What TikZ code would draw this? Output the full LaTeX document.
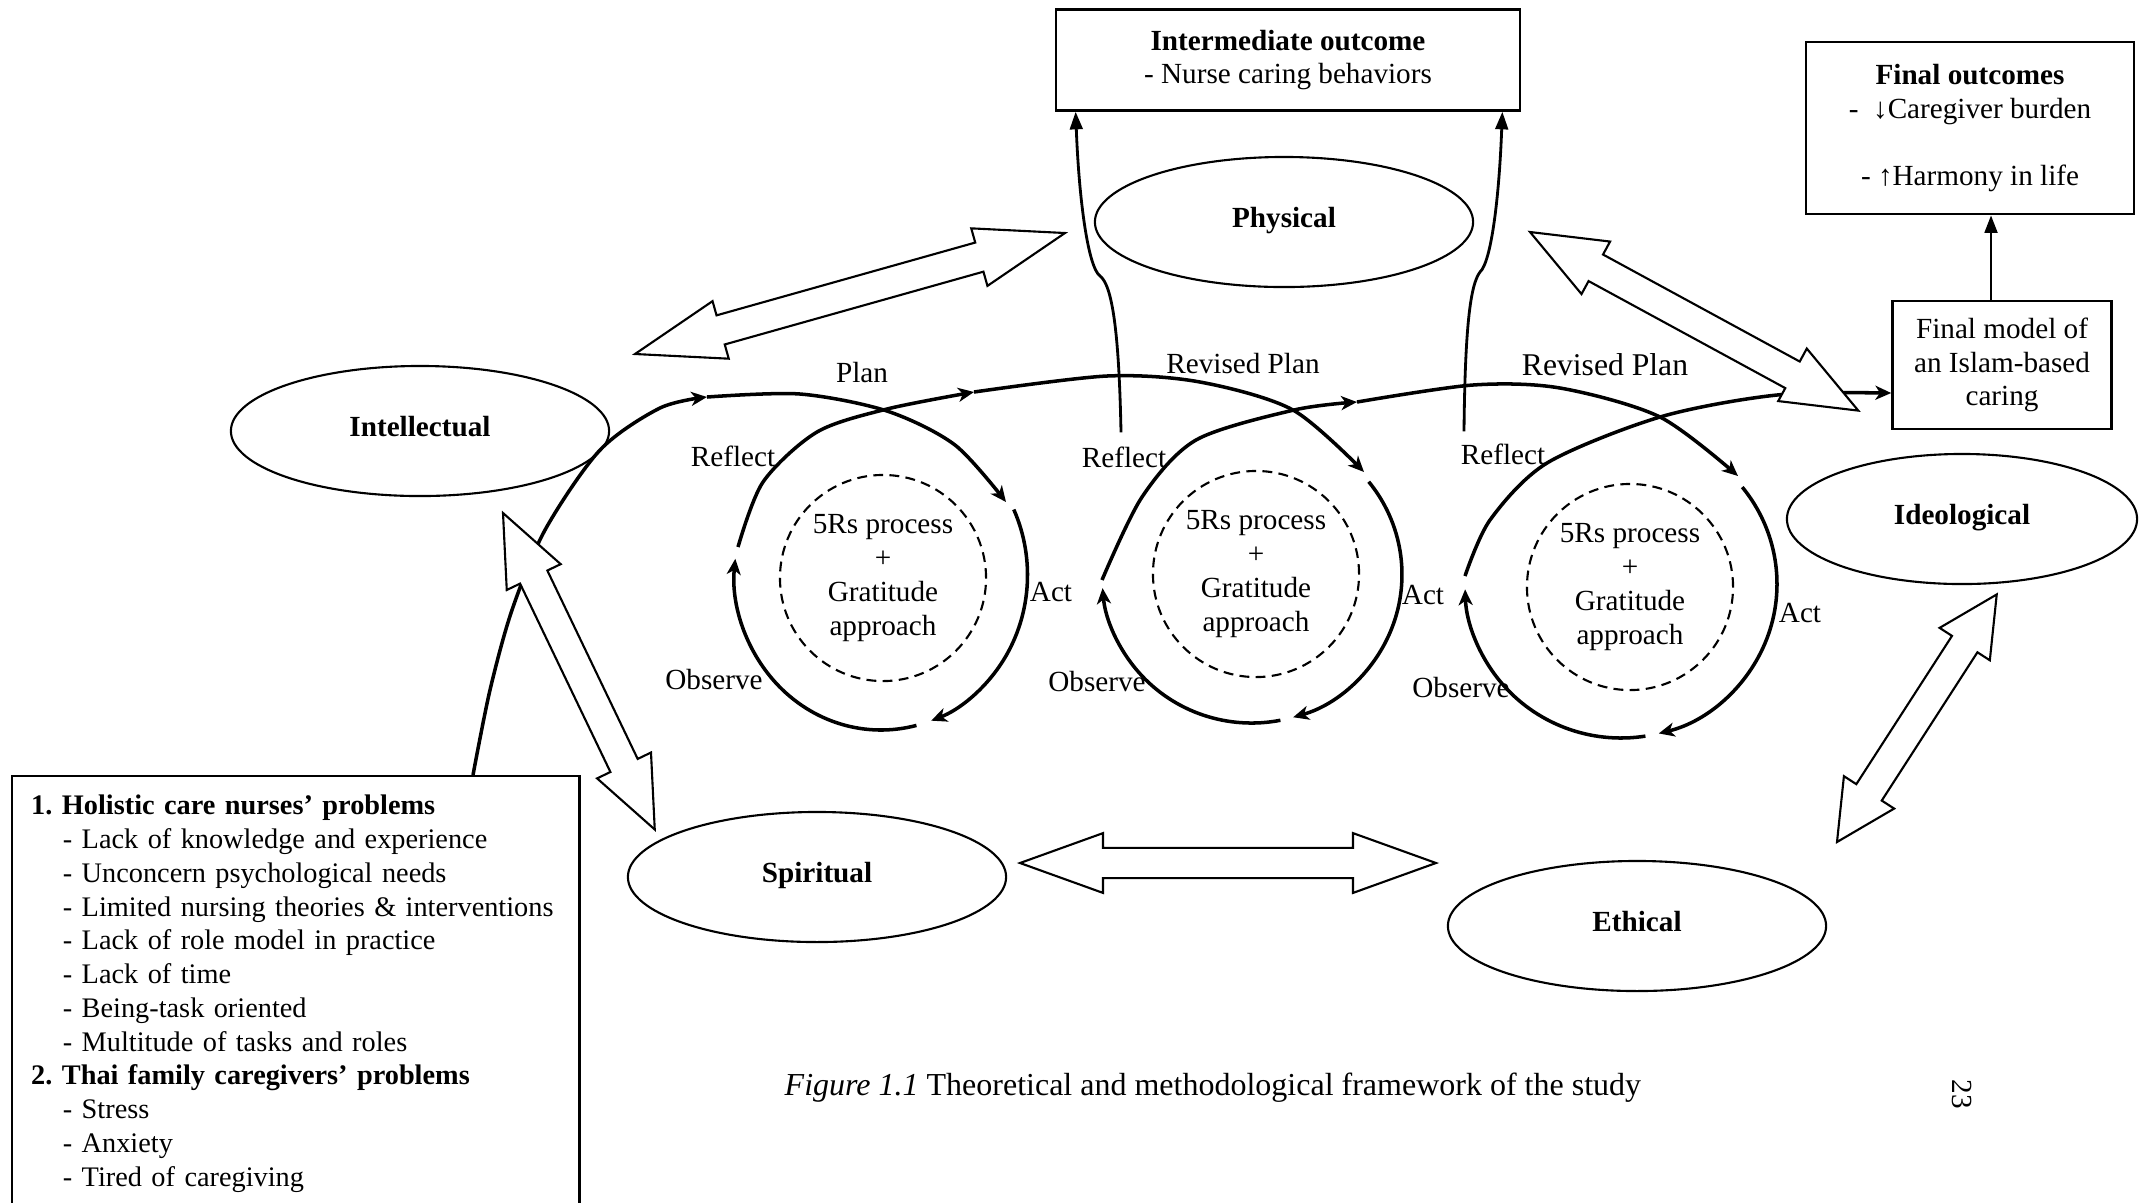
\documentclass[tikz,border=0pt]{standalone}
\usepackage{fontspec}
\setmainfont{Liberation Serif}
\usetikzlibrary{shapes.geometric,arrows.meta,calc}

\newcommand{\figtext}{\fontsize{8.3pt}{9.6pt}\selectfont}

% hollow double arrow from #1 to #2, head length #3
\newcommand{\blockarrow}[3]{%
  \path let \p1=($(#2)-(#1)$) in \pgfextra{%
    \pgfmathsetmacro{\barang}{atan2(\y1,\x1)}%
    \pgfmathsetmacro{\barlen}{veclen(\x1,\y1)}%
    \global\let\barang\barang
    \global\let\barlen\barlen};
  \draw[hollow, shift={(#1)}, rotate=\barang]
    (0pt,0pt) -- (#3,8.5pt) -- (#3,4.3pt) -- ({\barlen pt-#3},4.3pt)
    -- ({\barlen pt-#3},8.5pt) -- (\barlen pt,0pt) -- ({\barlen pt-#3},-8.5pt)
    -- ({\barlen pt-#3},-4.3pt) -- (#3,-4.3pt) -- (#3,-8.5pt) -- cycle;
}

\tikzset{
  realm/.style={ellipse, draw, line width=0.6pt, minimum width=3.78cm,
    minimum height=1.3cm, text height=0.7em, text depth=0.4em,
    font=\figtext\bfseries},
  outbox/.style={draw, line width=0.7pt, align=center},
  core/.style={circle, draw, dash pattern=on 2.8pt off 1.8pt, line width=0.6pt,
    minimum size=2.06cm, align=center, inner sep=0pt},
  cyc/.style={line width=1pt, -{Stealth[length=4.5pt,width=4pt,inset=1.3pt]}},
  uparrow/.style={line width=0.8pt, -{Triangle[length=5pt,width=3.6pt]}},
  hollow/.style={draw, fill=white, line width=0.6pt, line join=miter},
  lbl/.style={inner sep=1pt},
}

\begin{document}
\begin{tikzpicture}[x=0.01cm, y=-0.01cm, font=\figtext]
  \useasboundingbox (0,0) rectangle (2145,1202);

  % Domains
  \node[realm] (phys) at (1284,222) {Physical};
  \node[realm] (intel) at (420,431) {Intellectual};
  \node[realm, minimum width=3.5cm] (ideo) at (1962,519) {Ideological};
  \node[realm] (spir) at (817,877) {Spiritual};
  \node[realm] (ethic) at (1637,926) {Ethical};

  % Outcome boxes
  \node[outbox, minimum width=4.64cm, minimum height=1.01cm] (inter) at (1288,60)
    {\textbf{Intermediate outcome}\\- Nurse caring behaviors};
  \node[outbox, minimum width=3.28cm, minimum height=1.72cm] (fout) at (1970,128)
    {\textbf{Final outcomes}\\-\ \ ↓Caregiver burden\\[9.6pt]- ↑Harmony in life};
  \node[outbox, minimum width=2.19cm, minimum height=1.28cm] (fmodel) at (2002,365)
    {Final model of\\an Islam-based\\caring};

  % Problems box
  \node[draw, line width=0.7pt, anchor=north west, text width=5.29cm,
    inner xsep=0.19cm, inner ysep=0.19cm, align=left,
    font=\fontsize{8.05pt}{9.6pt}\selectfont\frenchspacing] (probs) at (11,775)
    {\textbf{1. Holistic care nurses' problems}\\
     \hspace*{9pt}- Lack of knowledge and experience\\
     \hspace*{9pt}- Unconcern psychological needs\\
     \hspace*{9pt}- Limited nursing theories \& interventions\\
     \hspace*{9pt}- Lack of role model in practice\\
     \hspace*{9pt}- Lack of time\\
     \hspace*{9pt}- Being-task oriented\\
     \hspace*{9pt}- Multitude of tasks and roles\\
     \textbf{2. Thai family caregivers' problems}\\
     \hspace*{9pt}- Stress\\
     \hspace*{9pt}- Anxiety\\
     \hspace*{9pt}- Tired of caregiving};

  % 5Rs cores
  \node[core] (core1) at (883,578) {5Rs process\\+\\Gratitude\\approach};
  \node[core] (core2) at (1256,574) {5Rs process\\+\\Gratitude\\approach};
  \node[core] (core3) at (1630,587) {5Rs process\\+\\Gratitude\\approach};

  % Cycle labels
  \node[lbl] (plan) at (862,372) {Plan};
  \node[lbl] (rplan2) at (1243,364) {Revised Plan};
  \node[lbl, font=\fontsize{9pt}{10pt}\selectfont] (rplan3) at (1605,365) {Revised Plan};
  \node[lbl] (refl1) at (733,456) {Reflect};
  \node[lbl] (refl2) at (1124,457) {Reflect};
  \node[lbl] (refl3) at (1503,454) {Reflect};
  \node[lbl] (act1) at (1051,592) {Act};
  \node[lbl] (act2) at (1423,595) {Act};
  \node[lbl] (act3) at (1800,613) {Act};
  \node[lbl] (obs1) at (714,679) {Observe};
  \node[lbl] (obs2) at (1097,681) {Observe};
  \node[lbl] (obs3) at (1461,687) {Observe};

  % Plan arc
  \coordinate (pstart) at ($(probs.north west)+(462,0)$);
  \draw[cyc] plot[smooth] coordinates {(pstart) (490,690) (512,610) (545,530) (600,450) (660,408) (707,397)};
  \draw[cyc] plot[smooth] coordinates {(707,397) (800,394) (887,411) (955,445) (1006,502)};
  % Cycle 1
  \begin{scope}[shift={(881,575)}]
    \draw[cyc] (-25:146.5 and 155) arc[start angle=-25, end angle=70, x radius=146.5, y radius=155];
    \draw[cyc] (76:146.5 and 155) arc[start angle=76, end angle=186, x radius=146.5, y radius=155];
  \end{scope}
  \draw[cyc] plot[smooth] coordinates {(738,547) (763,482) (817,432) (887,409) (974,392)};
  \draw[cyc] plot[smooth] coordinates {(974,392) (1107,376) (1200,382) (1293,410) (1364,472)};
  % Cycle 2
  \begin{scope}[shift={(1252,575)}, rotate=6]
    \draw[cyc] (-33:150 and 148) arc[start angle=-33, end angle=80, x radius=150, y radius=148];
    \draw[cyc] (85:150 and 148) arc[start angle=85, end angle=181, x radius=150, y radius=148];
  \end{scope}
  \draw[cyc] plot[smooth] coordinates {(1102,580) (1142,497) (1196,440) (1294,410) (1357,402)};
  \draw[cyc] plot[smooth] coordinates {(1357,402) (1473,385) (1560,388) (1660,417) (1738,476)};
  % Cycle 3
  \begin{scope}[shift={(1621,584)}]
    \draw[cyc] (-39:156 and 154) arc[start angle=-39, end angle=76, x radius=156, y radius=154];
    \draw[cyc] (81:156 and 154) arc[start angle=81, end angle=178, x radius=156, y radius=154];
  \end{scope}
  \coordinate (fin) at ($(fmodel.west)+(0,28)$);
  \draw[cyc] plot[smooth] coordinates {(1465,576) (1490,520) (1547,463) (1660,417) (1777,395) (fin)};

  % Reflect to intermediate outcome
  \coordinate (r2top) at ($(refl2.north)+(-3,-10)$);
  \coordinate (r3top) at ($(refl3.north)+(-39,-8)$);
  \draw[uparrow] (r2top) .. controls (1119,330) and (1112,285) .. (1100,276)
    .. controls (1088,267) and (1079,200) .. ($(inter.south west)+(21,0)$);
  \draw[uparrow] (r3top) .. controls (1465,330) and (1470,285) .. (1480,272)
    .. controls (1491,262) and (1499,200) .. ($(inter.south east)+(-19,0)$);
  % Final model to final outcomes
  \coordinate (fmtop) at ($(fmodel.north)+(-11,0)$);
  \draw[uparrow] (fmtop) -- (fmtop |- fout.south);

  % Hollow double arrows
  \coordinate (ip1) at (635,354); \coordinate (ip2) at (1065,233);
  \coordinate (pi1) at (1530,232); \coordinate (pi2) at (1859,411);
  \coordinate (is1) at (503,513); \coordinate (is2) at (655,830);
  \coordinate (se1) at (1020,863); \coordinate (se2) at (1436,863);
  \coordinate (ei1) at (1837,842); \coordinate (ei2) at (1997,594);
  \blockarrow{ip1}{ip2}{25.3pt}
  \blockarrow{pi1}{pi2}{21.3pt}
  \blockarrow{is1}{is2}{20.2pt}
  \blockarrow{se1}{se2}{23.6pt}
  \blockarrow{ei1}{ei2}{16.8pt}

  % Caption and page number
  \node[anchor=west, inner sep=0pt, font=\fontsize{9.1pt}{11pt}\selectfont] (cap) at (784,1088)
    {\textit{Figure 1.1} Theoretical and methodological framework of the study};
  \node[rotate=-90] (pg) at (1962,1094) {23};
\end{tikzpicture}
\end{document}
